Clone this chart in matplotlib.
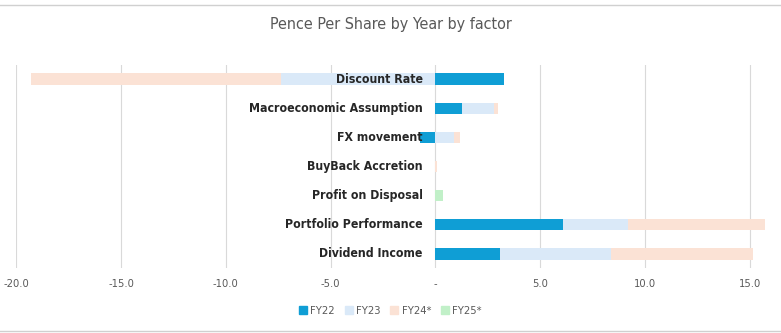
import matplotlib.pyplot as plt
import numpy as np
from matplotlib.lines import Line2D

# categories, top to bottom
factors = [
    "Discount Rate",
    "Macroeconomic Assumption",
    "FX movement",
    "BuyBack Accretion",
    "Profit on Disposal",
    "Portfolio Performance",
    "Dividend Income",
]
series_names = ["FY22", "FY23", "FY24*", "FY25*"]
fy22 = [3.29, 1.28, -0.74, 0.0, 0.0, 6.07, 3.08]
fy23 = [-7.36, 1.52, 0.88, 0.0, 0.0, 3.13, 5.29]
fy24 = [-11.93, 0.19, 0.31, 0.07, 0.0, 6.55, 6.81]
fy25 = [0.0, 0.0, 0.0, 0.0, 0.36, 0.0, 0.0]
xticks = [-20, -15, -10, -5, 0, 5, 10, 15]

colors = ["#0F9ED5", "#DAE9F8", "#FBE2D5", "#C1F0C8"]

fig = plt.figure(figsize=(7.81, 3.33), dpi=100)
ax = fig.add_axes([0.021, 0.195, 0.979, 0.61])

y = np.arange(len(factors))
pos_left = np.zeros(len(factors))
neg_left = np.zeros(len(factors))
for vals, col, name in zip([fy22, fy23, fy24, fy25], colors, series_names):
    vals = np.array(vals)
    left = np.where(vals >= 0, pos_left, neg_left)
    ax.barh(y, vals, left=left, height=0.41, color=col, label=name, zorder=2)
    pos_left += np.where(vals >= 0, vals, 0)
    neg_left += np.where(vals < 0, vals, 0)

# category names sit just left of zero
for i, f in enumerate(factors):
    ax.text(-0.6, i, f, ha="right", va="center", fontsize=8.8, fontweight="bold",
            color="#262626", fontstretch="condensed", zorder=3)

ax.set_xlim(-20, 16.5)
ax.set_ylim(len(factors) - 0.5, -0.5)
ax.set_xticks(xticks)
ax.set_xticklabels(["-" if t == 0 else f"{t:.1f}" for t in xticks],
                   fontstretch="condensed", fontsize=8, color="#595959")
ax.set_yticks([])
ax.tick_params(axis="x", length=0, pad=8)
ax.grid(axis="x", color="#D9D9D9", linewidth=0.8, zorder=0)
for s in ax.spines.values():
    s.set_visible(False)

fig.text(0.5, 0.925, "Pence Per Share by Year by factor", ha="center", va="center",
         fontsize=11.5, color="#595959", fontstretch="condensed")

handles = [Line2D([], [], marker="s", linestyle="", markersize=5.5,
                  markerfacecolor=c, markeredgecolor=c) for c in colors]
leg = fig.legend(handles, series_names, loc="center", bbox_to_anchor=(0.5, 0.065),
                 ncol=4, frameon=False, handlelength=0.7, handletextpad=0.3,
                 columnspacing=0.9, prop={"stretch": "condensed", "size": 8})
for t in leg.get_texts():
    t.set_color("#595959")

# sheet cell borders at top and bottom
fig.add_artist(Line2D([0, 1], [0.985, 0.985], color="#D0D0D0", linewidth=1))
fig.add_artist(Line2D([0, 1], [0.006, 0.006], color="#D0D0D0", linewidth=1))

fig.savefig("out.png", dpi=100)
